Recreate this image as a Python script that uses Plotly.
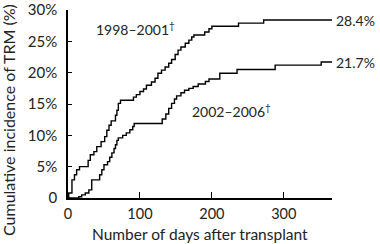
import plotly.graph_objects as go

# Cumulative incidence step data (days, %)
days_1998 = [0, 1, 5.5, 9, 12, 16, 28, 31, 36, 40, 46, 51, 54, 57, 60, 66, 68, 70, 73,
             91, 95, 100, 105, 109, 116, 121, 125, 130, 135, 140, 144, 149, 153, 157,
             163, 168, 172, 175, 190, 196, 200, 237, 272, 367]
cum_1998 = [0, 0.8, 2.9, 3.7, 4.5, 5.0, 6.0, 6.9, 7.4, 8.2, 9.0, 9.8, 10.8, 11.6, 12.3,
            13.2, 14.0, 15.1, 15.6, 16.1, 16.5, 17.0, 17.4, 18.0, 18.5, 19.1, 19.9, 20.4,
            20.9, 21.5, 22.1, 22.9, 23.6, 24.1, 24.7, 25.2, 25.7, 26.0, 26.5, 27.0, 27.4,
            27.9, 28.4, 28.4]

days_2002 = [0, 10, 15, 19, 24, 29, 33, 44, 47, 50, 55, 58, 61, 64, 66, 68, 70, 76, 81,
             86, 90, 92, 131, 136, 140, 144, 148, 151, 157, 162, 168, 174, 181, 191, 196,
             211, 235, 288, 352, 367]
cum_2002 = [0, 0, 0.2, 0.5, 0.8, 1.3, 2.9, 3.7, 4.5, 5.3, 5.8, 6.5, 7.2, 7.9, 8.5, 9.2,
            9.6, 10.0, 10.4, 10.9, 11.4, 11.9, 12.6, 13.4, 14.3, 15.1, 15.8, 16.3, 16.8,
            17.2, 17.5, 17.8, 18.2, 18.6, 19.0, 19.9, 20.5, 21.2, 21.7, 21.7]

end_labels = ["28.4%", "21.7%"]
end_values = [28.4, 21.7]
series_labels = ["1998–2001<sup>†</sup>", "2002–2006<sup>†</sup>"]

y_ticks = [0, 5, 10, 15, 20, 25, 30]
y_tick_labels = ["0", "5%", "10%", "15%", "20%", "25%", "30%"]
x_ticks = [0, 100, 200, 300]
x_tick_labels = ["0", "100", "200", "300"]

FONT = "Lato, 'Open Sans', sans-serif"
TXT = "#222222"
FS = 15

fig = go.Figure()
for xs, ys in [(days_1998, cum_1998), (days_2002, cum_2002)]:
    fig.add_trace(go.Scatter(x=xs, y=ys, mode="lines", line=dict(shape="hv", color="black", width=1.4),
                             showlegend=False, hoverinfo="skip"))

fig.add_annotation(x=94, y=27.1, text=series_labels[0], showarrow=False,
                   font=dict(family=FONT, size=14, color=TXT), xanchor="center", yanchor="middle")
fig.add_annotation(x=227, y=13.9, text=series_labels[1], showarrow=False,
                   font=dict(family=FONT, size=14, color=TXT), xanchor="center", yanchor="middle")
for lab, v in zip(end_labels, end_values):
    fig.add_annotation(xref="paper", x=1.006, yref="y", y=v, text=lab, showarrow=False,
                       font=dict(family=FONT, size=14, color=TXT), xanchor="left", yanchor="middle")

# y-axis title as a rotated annotation (sits lower than the plot centre, as in the reference)
fig.add_annotation(xref="paper", yref="paper", x=-0.2235, y=0.415,
                   text="Cumulative incidence of TRM (%)", textangle=-90, showarrow=False,
                   font=dict(family=FONT, size=16, color=TXT), xanchor="center", yanchor="middle")

# x-axis title as an annotation (centre at ~234 px from top)
fig.add_annotation(xref="paper", yref="paper", x=0.5, y=-0.19,
                   text="Number of days after transplant", showarrow=False,
                   font=dict(family=FONT, size=15.5, color=TXT), xanchor="center", yanchor="middle")

fig.update_layout(
    width=380, height=244,
    margin=dict(l=68, r=48, t=10, b=46),
    paper_bgcolor="white", plot_bgcolor="white",
    font=dict(family=FONT, size=FS, color=TXT),
    xaxis=dict(range=[0, 367], tickvals=x_ticks, ticktext=x_tick_labels, ticks="inside",
               ticklen=6, tickwidth=1.2, tickcolor="black", showline=True, linecolor="black",
               linewidth=1.5, showgrid=False, zeroline=False, ticklabelstandoff=2,
               automargin=False, tickfont=dict(family=FONT, size=14.5, color=TXT)),
    yaxis=dict(range=[0, 30], tickvals=y_ticks, ticktext=y_tick_labels, ticks="inside",
               ticklen=4, tickwidth=1.2, tickcolor="black", showline=True, linecolor="black",
               linewidth=1.5, showgrid=False, zeroline=False, ticklabelstandoff=6,
               automargin=False, tickfont=dict(family=FONT, size=FS, color=TXT)),
)

fig.write_html("out.html")
